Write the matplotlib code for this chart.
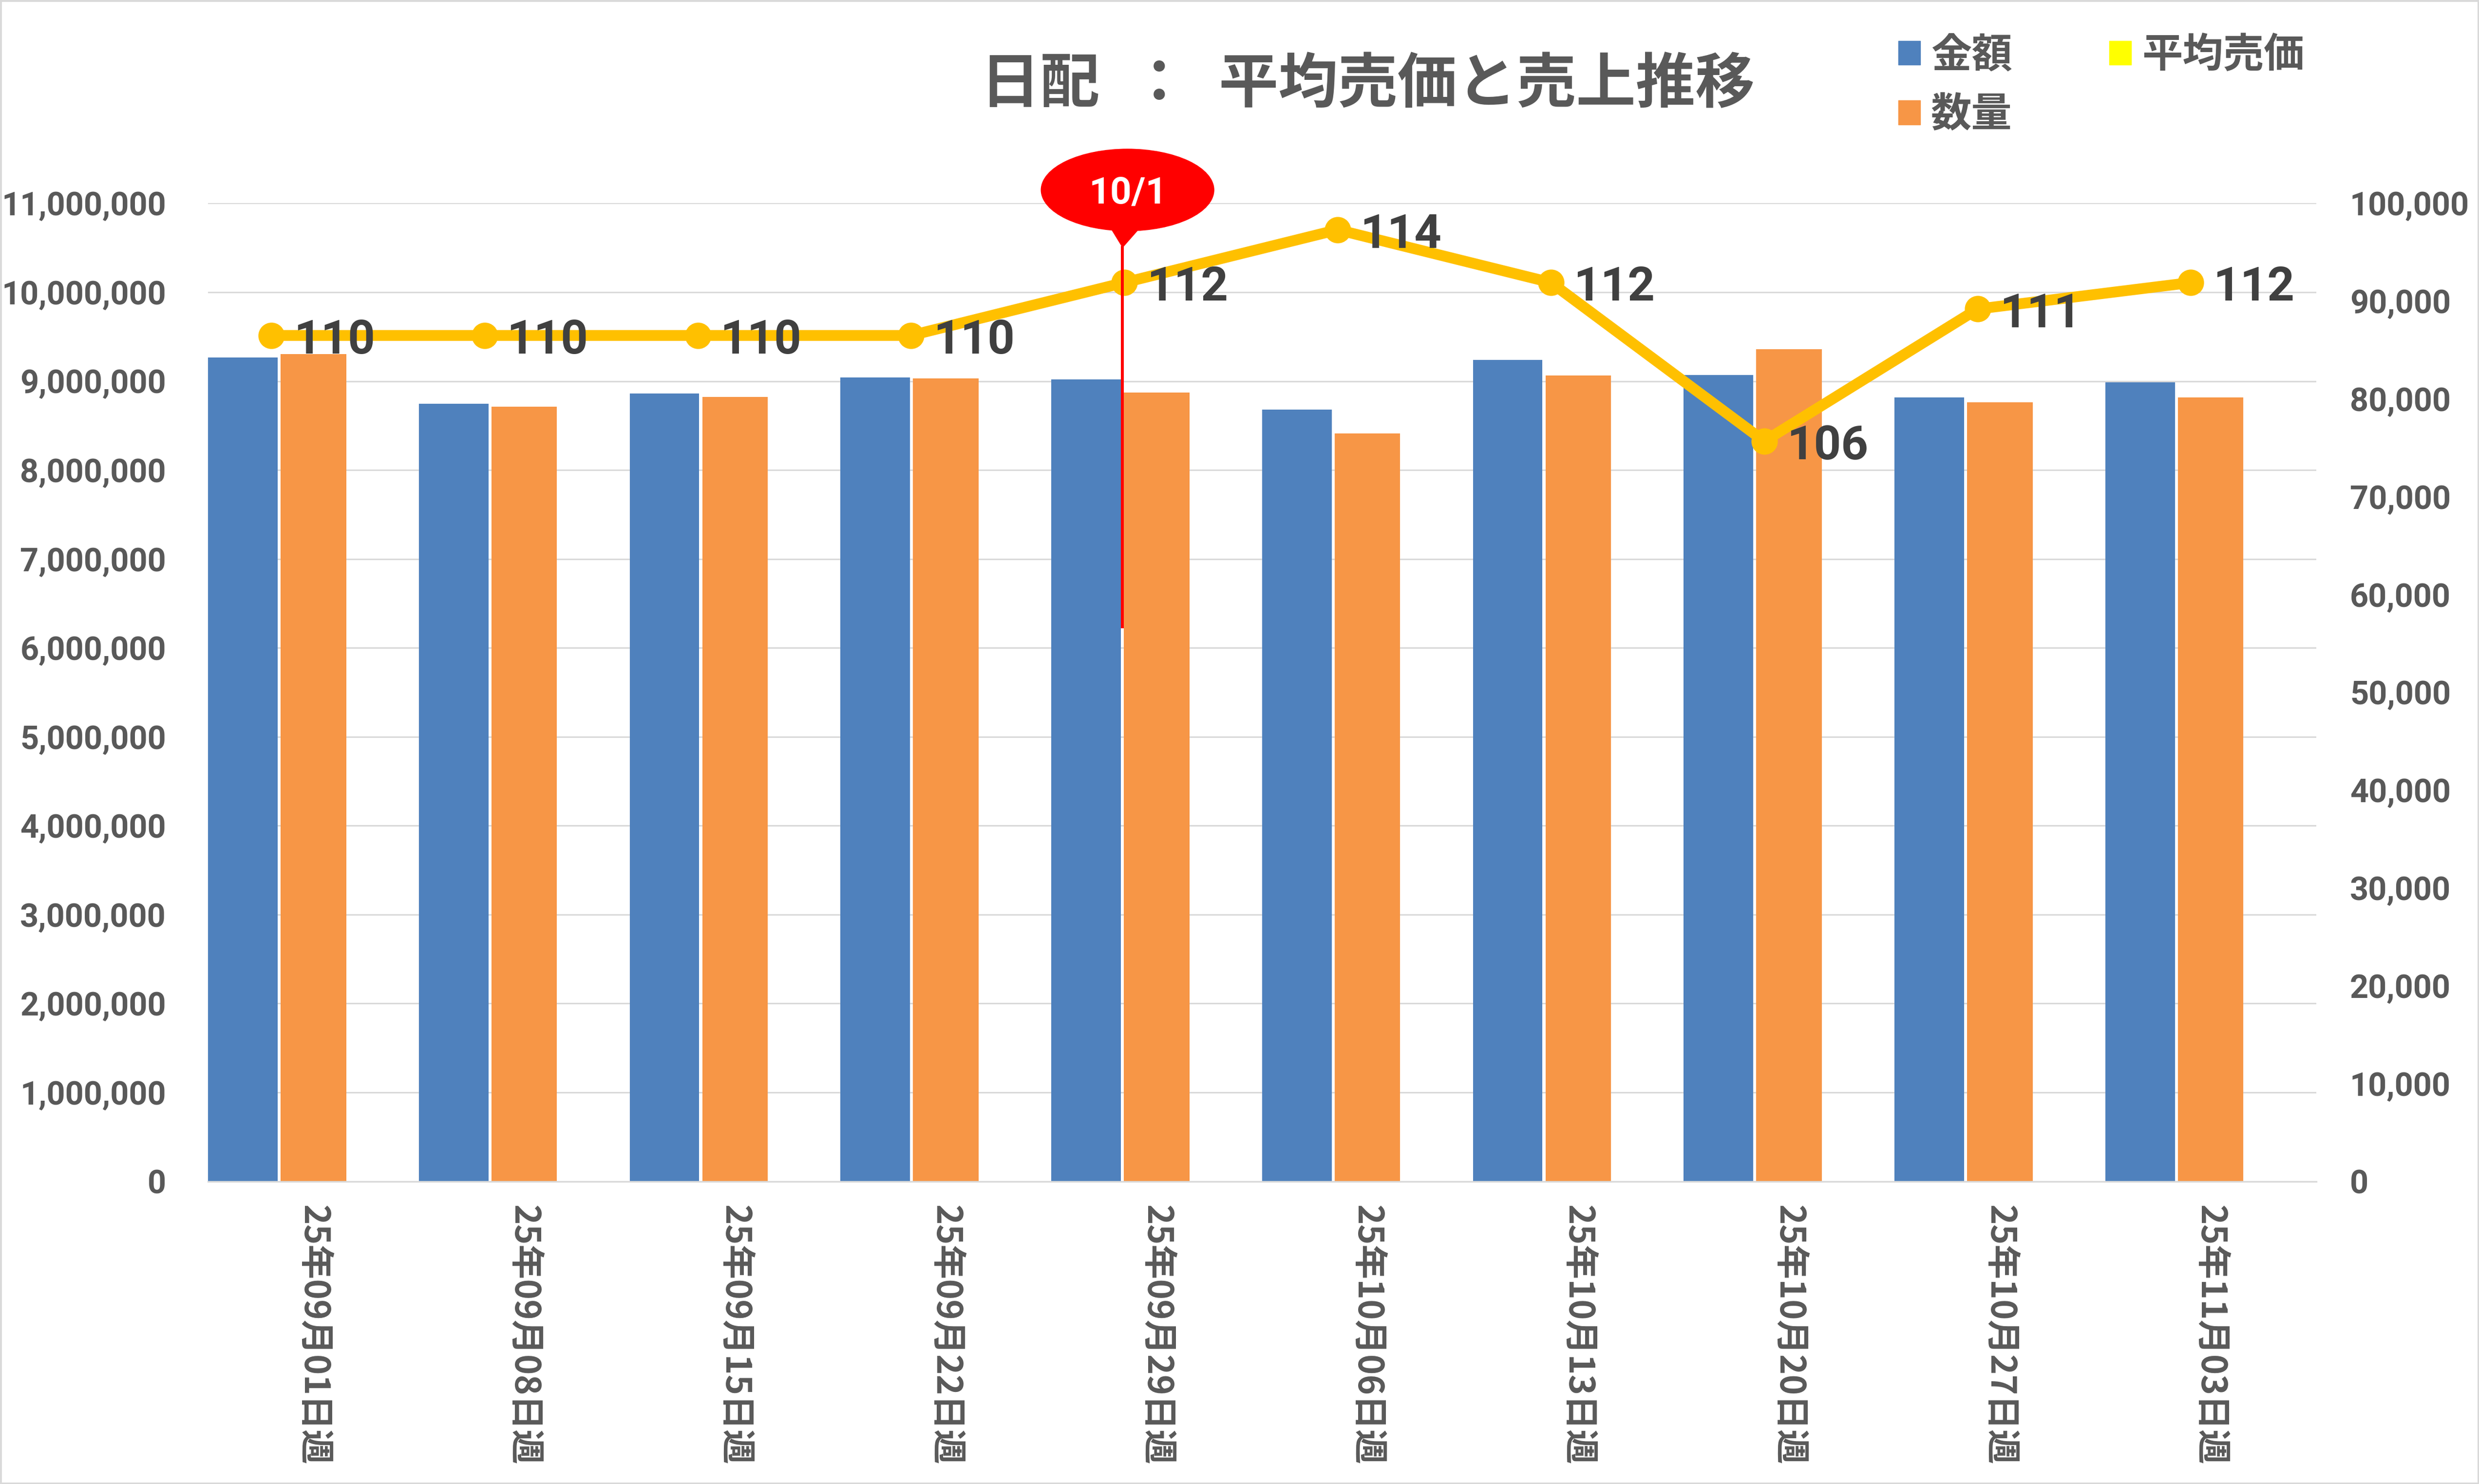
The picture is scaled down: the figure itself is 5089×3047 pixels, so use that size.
import matplotlib
matplotlib.use('Agg')
import matplotlib.pyplot as plt
from matplotlib.patches import Patch, Ellipse, Polygon, Rectangle
from matplotlib.ticker import FuncFormatter, MultipleLocator

# Data
weeks = ['25年09月01日週', '25年09月08日週', '25年09月15日週', '25年09月22日週',
         '25年09月29日週', '25年10月06日週', '25年10月13日週', '25年10月20日週',
         '25年10月27日週', '25年11月03日週']
amount = [9266000, 8746000, 8861000, 9041000, 9019000,
          8680000, 9239000, 9069000, 8817000, 8986000]
quantity = [84580, 79200, 80200, 82090, 80650,
            76470, 82390, 85060, 79650, 80150]
avg_price = [110, 110, 110, 110, 112, 114, 112, 106, 111, 112]

# Colours / fonts
BLUE = '#4F81BD'
ORANGE = '#F79646'
GOLD = '#FFC000'
YELLOW = '#FFFF00'
GRID = '#D9D9D9'
TXT = '#595959'
LABEL = '#404040'
CJK = ['Noto Sans CJK JP', 'DejaVu Sans']
NUM = ['Roboto', 'DejaVu Sans']

W, H, DPI = 5089, 3047, 100


def px_box(x0, y0, x1, y1):
    # pixel box (top-left origin) -> figure fraction rect
    return [x0 / W, 1 - y1 / H, (x1 - x0) / W, (y1 - y0) / H]


fig = plt.figure(figsize=(W / DPI, H / DPI), dpi=DPI)
fig.patch.set_facecolor('white')

# Left axis: amount bars
ax = fig.add_axes(px_box(427, 417.4, 4754.5, 2425.5))
x = list(range(len(weeks)))
ax.bar([i - 0.335 for i in x], amount, width=0.330, color=BLUE, zorder=2)
ax.set_xlim(-0.5, len(weeks) - 0.5)
ax.set_ylim(0, 11_000_000)
ax.yaxis.set_major_locator(MultipleLocator(1_000_000))
ax.yaxis.set_major_formatter(FuncFormatter(lambda v, _: f'{v:,.0f}'))
ax.yaxis.grid(True, color=GRID, lw=2.2)
ax.set_axisbelow(True)
for s in ax.spines.values():
    s.set_visible(False)
ax.tick_params(axis='y', length=0, pad=62, labelcolor=TXT, labelsize=48)
ax.tick_params(axis='x', length=0, pad=35)
ax.set_xticks(x)
ax.set_xticklabels(weeks, rotation=270, fontsize=51, color=TXT,
                   fontweight='bold', family=CJK)
for t in ax.get_yticklabels():
    t.set_family(NUM)
    t.set_fontweight('bold')

# Right axis: quantity bars
ax2 = ax.twinx()
ax2.bar(x, quantity, width=0.311, color=ORANGE, zorder=2)
ax2.set_ylim(0, 100_000)
ax2.yaxis.set_major_locator(MultipleLocator(10_000))
ax2.yaxis.set_major_formatter(FuncFormatter(lambda v, _: f'{v:,.0f}'))
for name, s in ax2.spines.items():
    s.set_visible(name == 'bottom')
ax2.spines['bottom'].set_color(GRID)
ax2.spines['bottom'].set_linewidth(2.4)
ax2.tick_params(axis='y', length=0, pad=50, labelcolor=TXT, labelsize=48)
for t in ax2.get_yticklabels():
    t.set_family(NUM)
    t.set_fontweight('bold')

# Hidden axis for average price line
ax3 = fig.add_axes(px_box(337.9, 417.4, 4716.4, 2425.5))
ax3.patch.set_visible(False)
ax3.axis('off')
ax3.plot(x, avg_price, color=GOLD, lw=16, marker='o', ms=39,
         markeredgewidth=0, solid_joinstyle='round', zorder=2)
ax3.set_xlim(-0.5, len(weeks) - 0.5)
ax3.set_ylim(78, 115)
for i, v in zip(x, avg_price):
    ax3.annotate(f'{v}', (i, v), xytext=(33, -8), textcoords='offset points',
                 ha='left', va='center', fontsize=70, fontweight='bold',
                 color=LABEL, family=NUM, zorder=4)

# 10/1 marker balloon (positioned in the bar axis coordinates)
mark = 4 - 0.1615
tr = ax.transData
ax3.plot([mark, mark], [6_237_000, 10_504_000], color='red', lw=4.3,
         transform=tr, clip_on=False, zorder=5)
ax3.add_patch(Ellipse((4 - 0.138, 11_150_000), 0.82, 920_000, color='red',
                      transform=tr, clip_on=False, zorder=5))
ax3.add_patch(Polygon([(4 - 0.225, 10_750_000), (4 - 0.070, 10_750_000),
                       (mark, 10_504_000)], closed=True, color='red',
                      transform=tr, clip_on=False, zorder=5))
ax3.text(4 - 0.136, 11_110_000, '10/1', transform=tr, ha='center', va='center',
         color='white', fontsize=55, fontweight='bold', family=NUM, zorder=6)

# Title
fig.text(2808 / W, 1 - 210 / H, '日配\u2002：\u2002平均売価と売上推移',
         ha='center', va='baseline', fontsize=88, fontweight='bold',
         color=TXT, family=CJK)

# Legend
handles = [Patch(color=BLUE, label='金額'),
           Patch(color=ORANGE, label='数量'),
           Patch(color=YELLOW, label='平均売価')]
fig.legend(handles=handles, ncol=2, loc='upper left',
           bbox_to_anchor=(3897 / W, 1 - 71 / H), frameon=False,
           prop=dict(family=CJK, weight='bold', size=60), labelcolor=TXT,
           handlelength=0.54, handleheight=0.54, handletextpad=0.26,
           columnspacing=2.4, labelspacing=0.45, borderpad=0, borderaxespad=0)

# Chart border
fig.patches.append(Rectangle((0, 0), 1, 1, transform=fig.transFigure,
                             fill=False, ec=GRID, lw=5))

fig.savefig('out.png', dpi=DPI)
